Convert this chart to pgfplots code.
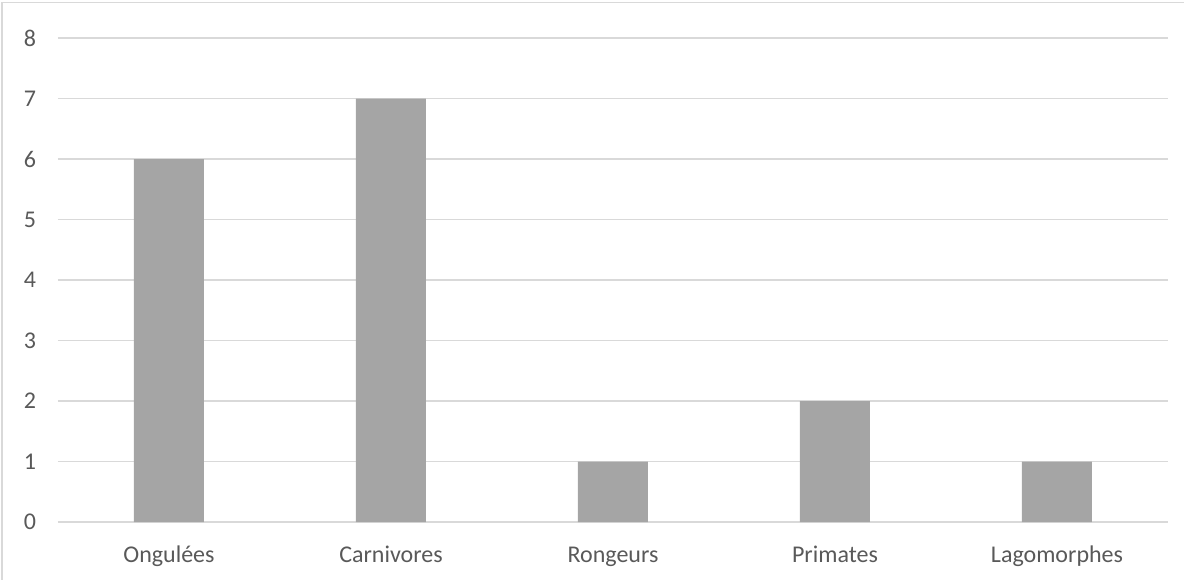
\documentclass[border=0pt]{standalone}
\usepackage{fontspec}
\setmainfont{Carlito}
\usepackage{pgfplots}
\pgfplotsset{compat=1.18}
\definecolor{barfill}{HTML}{A5A5A5}
\definecolor{gridgray}{HTML}{D9D9D9}
\definecolor{labelgray}{HTML}{595959}
\begin{document}
\begin{tikzpicture}
% outer chart frame (left and top edges)
\useasboundingbox (-29pt,-28.5pt) rectangle (563pt,261pt);
\draw[gridgray, line width=0.8pt] (-28pt,-30pt) -- (-28pt,259.8pt) -- (565pt,259.8pt);
\begin{axis}[
  at={(0,0)}, anchor=south west,
  scale only axis,
  width=555pt, height=242pt,
  xmin=-0.5, xmax=4.5,
  ymin=0, ymax=8,
  ytick={0,1,...,8},
  xtick={0,1,2,3,4},
  xticklabels={Ongulées,Carnivores,Rongeurs,Primates,Lagomorphes},
  axis line style={draw=none},
  major tick length=0pt,
  ymajorgrids,
  grid style={gridgray, line width=0.6pt},
  tick label style={font=\fontsize{12}{14}\selectfont, text=labelgray},
  /pgf/number format/assume math mode=true,
  yticklabel style={anchor=east, xshift=-7.5pt},
  xticklabel style={anchor=base, yshift=-20pt},
  ybar, bar width=35pt,
  clip=false,
]
\addplot[fill=barfill, draw=none] coordinates {(0,6) (1,7) (2,1) (3,2) (4,1)};
\end{axis}
\end{tikzpicture}
\end{document}
